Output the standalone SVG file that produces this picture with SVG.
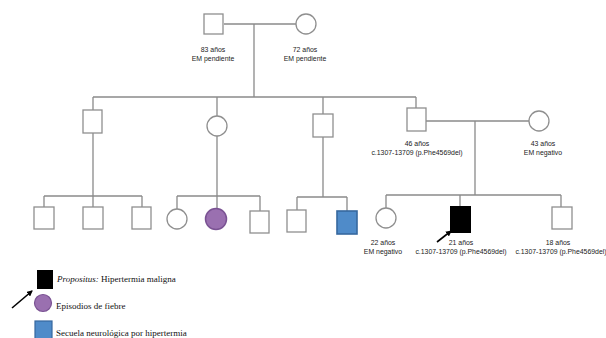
<svg xmlns="http://www.w3.org/2000/svg" width="606" height="338" viewBox="0 0 606 338">
<defs>
<style>
.ln{stroke:#8a8a8a;stroke-width:1.3;fill:none}
.sh{fill:#fff;stroke:#8f8f8f;stroke-width:1.3}
.lb{font-family:"Liberation Sans",Arial,sans-serif;font-size:6.9px;fill:#222;text-anchor:middle}
.lg{font-family:"Liberation Serif","Times New Roman",serif;font-size:9px;fill:#111}
.ar{stroke:#000;stroke-width:1.6;fill:none}
</style>
<marker id="ah" markerWidth="6" markerHeight="6" refX="5" refY="3" orient="auto" markerUnits="userSpaceOnUse">
<path d="M0,0 L6,3 L0,6 z" fill="#000"/>
</marker>
</defs>
<rect width="606" height="338" fill="#fff"/>
<g id="connectors">
<path class="ln" d="M224,24 H296 M254,24 V97 M93,97 H416 M93,97 V110 M217,97 V116 M323,97 V114 M416,97 V108"/>
<path class="ln" d="M426,121 H529 M475,121 V195"/>
<path class="ln" d="M93,133 V196 M44,196 H142 M44,196 V207 M93,196 V207 M142,196 V207"/>
<path class="ln" d="M217,136 V208 M177,196 H260 M177,196 V209 M260,196 V211"/>
<path class="ln" d="M323,137 V197 M297,197 H347 M297,197 V210 M347,197 V211"/>
<path class="ln" d="M386,195 H561 M386,195 V208 M460,195 V206 M561,195 V207"/>
</g>
<g id="gp1"><rect class="sh" x="204" y="14" width="19" height="20"/>
<text class="lb" x="213" y="52">83 años</text><text class="lb" x="213" y="61">EM pendiente</text></g>
<g id="gp2"><circle class="sh" cx="306" cy="24" r="10"/>
<text class="lb" x="305" y="52">72 años</text><text class="lb" x="305" y="61">EM pendiente</text></g>
<g id="p1"><rect class="sh" x="83" y="110" width="19" height="23"/></g>
<g id="p2"><circle class="sh" cx="217" cy="126" r="10"/></g>
<g id="p3"><rect class="sh" x="313" y="114" width="20" height="23"/></g>
<g id="father"><rect class="sh" x="407" y="108" width="19" height="23"/>
<text class="lb" x="417" y="146">46 años</text><text class="lb" x="417" y="155">c.1307-13709 (p.Phe4569del)</text></g>
<g id="mother"><circle class="sh" cx="539" cy="121" r="10"/>
<text class="lb" x="543" y="146">43 años</text><text class="lb" x="543" y="155">EM negativo</text></g>
<g id="c1"><rect class="sh" x="34" y="207" width="20" height="22"/></g>
<g id="c2"><rect class="sh" x="83" y="207" width="20" height="22"/></g>
<g id="c3"><rect class="sh" x="132" y="207" width="19" height="22"/></g>
<g id="c4"><circle class="sh" cx="177" cy="219" r="10"/></g>
<g id="c5"><circle cx="216" cy="219" r="10.5" fill="#9a70b0" stroke="#7a5293" stroke-width="1.5"/></g>
<g id="c6"><rect class="sh" x="250" y="211" width="19" height="22"/></g>
<g id="c7"><rect class="sh" x="287" y="210" width="19" height="22"/></g>
<g id="c8"><rect x="337" y="211" width="20" height="23" fill="#4f8bc9" stroke="#36689f" stroke-width="1.6"/></g>
<g id="sib1"><circle class="sh" cx="386" cy="218" r="10"/>
<text class="lb" x="383" y="245">22 años</text><text class="lb" x="383" y="254">EM negativo</text></g>
<g id="proband"><rect x="450" y="206" width="21" height="27" fill="#000"/>
<path class="ar" d="M437,242 L451,231" marker-end="url(#ah)"/>
<text class="lb" x="461" y="245">21 años</text><text class="lb" x="461" y="254">c.1307-13709 (p.Phe4569del)</text></g>
<g id="sib2"><rect class="sh" x="552" y="207" width="20" height="22"/>
<text class="lb" x="558" y="245">18 años</text><text class="lb" x="561" y="254">c.1307-13709 (p.Phe4569del)</text></g>
<g id="legend">
<rect x="37" y="270" width="16" height="19" fill="#000"/>
<path class="ar" d="M12,308 L32,291" marker-end="url(#ah)"/>
<text class="lg" x="57" y="282"><tspan font-style="italic">Propositus:</tspan> Hipertermia maligna</text>
<circle cx="43" cy="303" r="8.5" fill="#9a70b0" stroke="#7a5293" stroke-width="1.2"/>
<text class="lg" x="56" y="309">Episodios de fiebre</text>
<rect x="35" y="321" width="17" height="19" fill="#4f8bc9" stroke="#36689f" stroke-width="1.2"/>
<text class="lg" x="56" y="336">Secuela neurológica por hipertermia</text>
</g>
</svg>
